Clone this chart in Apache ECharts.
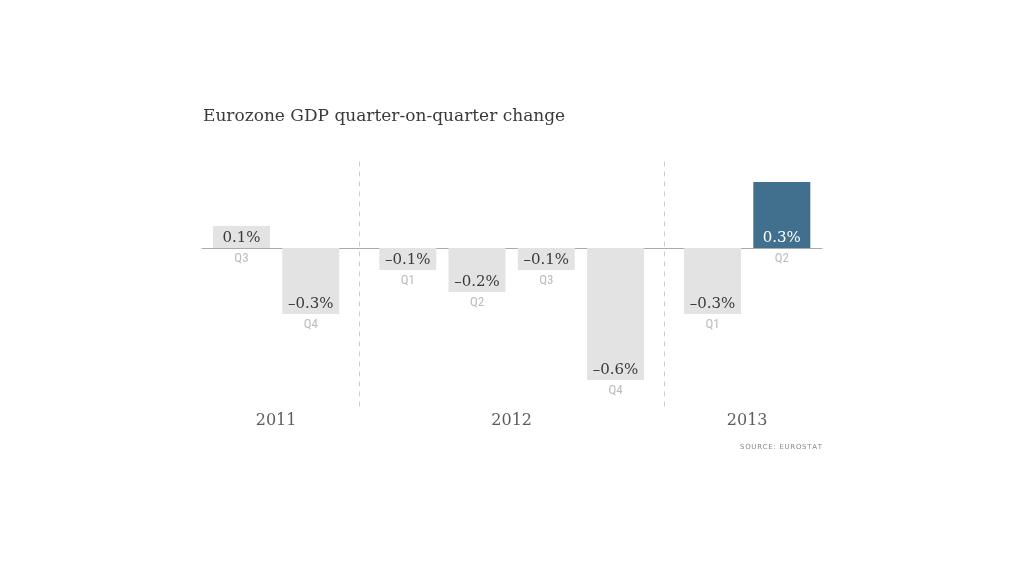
<!DOCTYPE html>
<html><head><meta charset="utf-8">
<script src="https://cdn.jsdelivr.net/npm/echarts@6/dist/echarts.min.js"></script>
<style>html,body{margin:0;padding:0;background:#fff}#c{width:1024px;height:576px}</style>
</head><body><div id="c"></div>
<script>
var quarters = ['Q3','Q4','Q1','Q2','Q3','Q4','Q1','Q2'];
var years = ['2011','2011','2012','2012','2012','2012','2013','2013'];
var values = [0.1,-0.3,-0.1,-0.2,-0.1,-0.6,-0.3,0.3];
var yearLabels = ['2011','2012','2013'];
var highlightIndex = 7;

var GAP = 0.4;
var pos = [];
var g = 0;
for (var i = 0; i < values.length; i++) {
  if (i > 0 && years[i] !== years[i-1]) g++;
  pos.push(i + g * GAP);
}
function fmt(v){ return (v < 0 ? '\u2013' : '') + Math.abs(v).toFixed(1) + '%'; }

var barData = values.map(function(v,i){
  var hl = i === highlightIndex;
  return {value:[pos[i], v], itemStyle:{color: hl ? '#41708f' : '#e3e3e3'},
    label:{color: hl ? '#ffffff' : '#3a3a3a'}};
});
var qData = values.map(function(v,i){ return {value:[pos[i], Math.min(v,0)], name:quarters[i]}; });
var yearData = yearLabels.map(function(y){
  var xs = []; for (var i=0;i<years.length;i++) if (years[i]===y) xs.push(pos[i]);
  return {value:[(xs[0]+xs[xs.length-1])/2, -0.72], name:y};
});
var dividers = [];
for (var i = 1; i < years.length; i++) if (years[i] !== years[i-1]) dividers.push({xAxis:(pos[i]+pos[i-1])/2});

var source = 'SOURCE: EUROSTAT'.split('').join('\u200A');

var chart = echarts.init(document.getElementById('c'));
chart.setOption({
  animation:false,
  title:[
    {text:'Eurozone GDP quarter-on-quarter change', left:198, top:103,
     textStyle:{fontFamily:'DejaVu Serif', fontWeight:'normal', fontSize:17, color:'#3a3a3a'}},
    {text:source, right:197, top:439,
     textStyle:{fontFamily:'DejaVu Sans', fontWeight:'normal', fontSize:7, color:'#888'}}
  ],
  grid:{left:202, right:202, top:160, bottom:576-406.4},
  xAxis:{type:'value', min:-0.57, max:pos[pos.length-1]+0.58,
    axisLine:{show:true, onZero:true, lineStyle:{color:'#aaaaaa', width:1}},
    axisTick:{show:false}, axisLabel:{show:false}, splitLine:{show:false}},
  yAxis:{type:'value', min:-0.72, max:0.4, show:false, splitLine:{show:false}},
  series:[
    {type:'bar', data:barData, barWidth:57, z:2,
     label:{show:true, position:'insideBottom', distance:2,
       formatter:function(p){return fmt(p.value[1]);},
       fontFamily:'DejaVu Serif', fontSize:15},
     markLine:{silent:true, symbol:'none', label:{show:false},
       lineStyle:{color:'#cccccc', type:[5,5], width:1}, data:dividers}
    },
    {type:'scatter', data:qData, symbolSize:0, z:3,
     label:{show:true, position:'bottom', distance:4, formatter:'{b}',
       fontFamily:'Liberation Sans Narrow, Roboto Condensed, Liberation Sans', fontSize:13, color:'#aaaaaa'}},
    {type:'scatter', data:yearData, symbolSize:0, z:3,
     label:{show:true, position:'bottom', distance:6, formatter:'{b}',
       fontFamily:'DejaVu Serif', fontSize:16, color:'#333'}}
  ]
});
</script></body></html>
